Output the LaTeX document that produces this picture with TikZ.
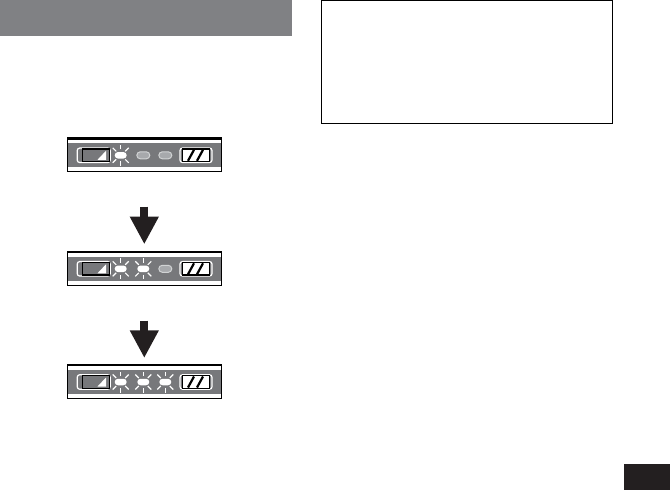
\documentclass[tikz,border=0pt]{standalone}
\usepackage{xcolor}
\usetikzlibrary{arrows.meta,positioning,shapes.misc}
\definecolor{hdrgrey}{HTML}{808184}
\definecolor{bandgrey}{HTML}{77787B}
\definecolor{ledgrey}{HTML}{A7A9AC}
\definecolor{ledrim}{HTML}{D1D3D4}
\definecolor{tabblack}{HTML}{231F20}
% one strip: frame, band and the two batteries
\newcommand{\ledstrip}[2]{
\node (#1) at (144.3,#2) [stripframe] {};
\draw[line width=2.4pt] (#1.north west) -- (#1.north east);
\node (#1band) at (144.3,#2) [stripband] {};
\node (#1low) at (93.7,#2) [batshell,minimum width=33pt] {};
\node (#1lowin) at (96,#2) [batbody,fill=bandgrey] {};
\fill[white,shift={(#1lowin.center)}] (1.5,4.5) -- (10,-4.5) -- (10,4.5) -- cycle;
\node (#1full) at (196,#2) [batshell,minimum width=32pt] {};
\node (#1fullin) at (196,#2) [batbody,fill=white] {};
\draw[black,line width=2.2pt,shift={(#1fullin.center)}] (-8,5.5) -- (-2,-5.5) (1,5.5) -- (7,-5.5);
}
% the rays round a lit led
\newcommand{\ledrays}[1]{
\foreach \sx/\sy/\ex/\ey in {0/-6/0/-10.5,0/6/0/10.5,-4.5/-4/-8/-7.5,4.5/-4/8/-7.5,-4.5/4/-8/7.5,4.5/4/8/7.5}
\draw[white,line width=1.2pt,shift={(#1.center)}] (\sx,\sy) -- (\ex,\ey);
}
\begin{document}
\begin{tikzpicture}
[x=1pt,y=-1pt,
hdrbar/.style={fill=hdrgrey,inner sep=0,minimum width=292pt,minimum height=36pt},
tabbar/.style={fill=tabblack,inner sep=0,minimum width=46pt,minimum height=26pt},
notebox/.style={draw,line width=1pt,inner sep=0,minimum width=290.5pt,minimum height=122.5pt},
stripframe/.style={draw,line width=1pt,fill=white,inner sep=0,minimum width=153.5pt,minimum height=33pt},
stripband/.style={fill=bandgrey,inner sep=0,minimum width=152.5pt,minimum height=24pt},
batshell/.style={draw=white,line width=1.2pt,rounded corners=2.5pt,fill=bandgrey,inner sep=0,minimum height=14.5pt},
batbody/.style={draw=black,line width=1.2pt,inner sep=0,minimum width=27pt,minimum height=12.5pt},
ledoff/.style={rounded rectangle,draw=ledrim,line width=1pt,fill=ledgrey,inner sep=0,minimum width=13pt,minimum height=7pt},
ledon/.style={rounded rectangle,fill=white,inner sep=0,minimum width=12pt,minimum height=6.5pt},
bigarrow/.style={line width=8.3pt,tabblack,-{Triangle[length=27.6pt,width=27pt]}}]
\useasboundingbox (0,0) rectangle (670,490);

\node (hdr) at (146,18) [hdrbar] {};
\node (note) at (467,62.2) [notebox] {};
\node (tab) at (647,477) [tabbar] {};

\ledstrip{a}{155.3}
\node (a1) at (120.7,155.3) [ledon] {};
\node (a2) at (143.3,155.3) [ledoff] {};
\node (a3) at (165.3,155.3) [ledoff] {};
\ledrays{a1}

\ledstrip{b}{268.8}
\node (b1) at (120.7,268.8) [ledon] {};
\node (b2) at (143.3,268.8) [ledon] {};
\node (b3) at (165.3,268.8) [ledoff] {};
\ledrays{b1}
\ledrays{b2}

\ledstrip{c}{382}
\node (c1) at (120.7,382) [ledon] {};
\node (c2) at (143.3,382) [ledon] {};
\node (c3) at (165.3,382) [ledon] {};
\ledrays{c1}
\ledrays{c2}
\ledrays{c3}

\coordinate (p1) at (144.3,206.7);
\coordinate (p2) at (144.3,244.3);
\coordinate (q1) at (144.3,320.5);
\coordinate (q2) at (144.3,358);
\draw[bigarrow] (p1) -- (p2);
\draw[bigarrow] (q1) -- (q2);
\end{tikzpicture}
\end{document}
